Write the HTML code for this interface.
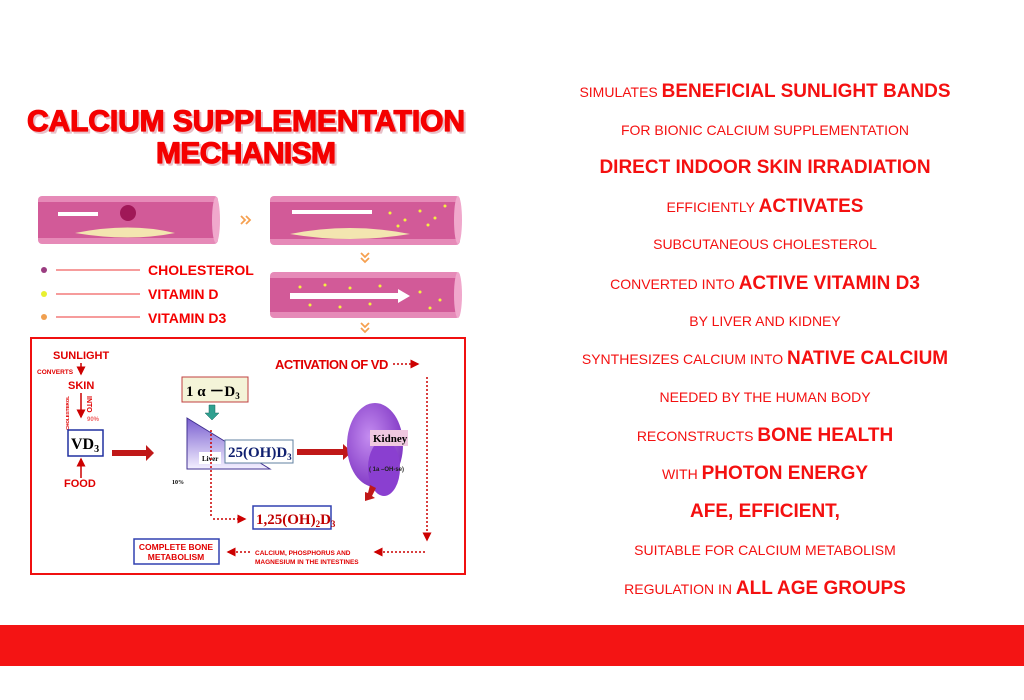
<!DOCTYPE html>
<html><head><meta charset="utf-8"><style>
html,body{margin:0;padding:0;background:#fff;width:1024px;height:700px;overflow:hidden}
svg{display:block}
</style></head><body>
<svg width="1024" height="700" viewBox="0 0 1024 700" xmlns="http://www.w3.org/2000/svg" font-family="Liberation Sans, sans-serif">
<defs>
<marker id="ah" markerWidth="6" markerHeight="6" refX="5" refY="3" orient="auto"><path d="M0,0 L6,3 L0,6 z" fill="#c00"/></marker>
<linearGradient id="liv" x1="0" y1="0" x2="0" y2="1"><stop offset="0" stop-color="#7a5fd0"/><stop offset="1" stop-color="#f4f0ff"/></linearGradient>
<radialGradient id="kid" cx="0.4" cy="0.4" r="0.7"><stop offset="0" stop-color="#c48cf0"/><stop offset="1" stop-color="#7a2fc0"/></radialGradient>
</defs>
<rect x="0" y="0" width="1024" height="700" fill="#fff"/>
<rect x="0" y="625" width="1024" height="41" fill="#f41414"/>

<!-- Title -->
<g font-weight="bold" font-size="30" text-anchor="middle" stroke-linejoin="round">
<text x="248" y="133" fill="#e8c0c8" stroke="#e8c0c8" stroke-width="1.2" textLength="438" lengthAdjust="spacing">CALCIUM SUPPLEMENTATION</text>
<text x="246" y="131" fill="#f40000" stroke="#f40000" stroke-width="1.2" textLength="438" lengthAdjust="spacing">CALCIUM SUPPLEMENTATION</text>
<text x="248" y="165" fill="#e8c0c8" stroke="#e8c0c8" stroke-width="1.2" textLength="180" lengthAdjust="spacing">MECHANISM</text>
<text x="246" y="163" fill="#f40000" stroke="#f40000" stroke-width="1.2" textLength="180" lengthAdjust="spacing">MECHANISM</text>
</g>

<!-- vessels -->
<g>
<rect x="38" y="196" width="180" height="48" rx="4" fill="#e68ab8"/>
<rect x="38" y="202" width="178" height="36" fill="#d25a98"/>
<path d="M75,233 Q130,222 175,233 Q130,242 75,233z" fill="#f3e5b0"/>
<circle cx="128" cy="213" r="8" fill="#a01858"/>
<rect x="58" y="212" width="40" height="4" fill="#fff"/>
<ellipse cx="216" cy="220" rx="4" ry="23" fill="#f0a8cc"/>

<rect x="270" y="196" width="190" height="49" rx="4" fill="#e68ab8"/>
<rect x="270" y="202" width="188" height="37" fill="#d25a98"/>
<path d="M290,234 Q350,222 410,234 Q350,244 290,234z" fill="#f3e5b0"/>
<rect x="292" y="210" width="80" height="4" fill="#fff"/>
<g fill="#f4f040"><circle cx="390" cy="213" r="1.5"/><circle cx="405" cy="220" r="1.5"/><circle cx="420" cy="211" r="1.5"/><circle cx="435" cy="218" r="1.5"/><circle cx="445" cy="206" r="1.5"/><circle cx="398" cy="226" r="1.5"/><circle cx="428" cy="225" r="1.5"/></g>
<ellipse cx="458" cy="220" rx="4" ry="24" fill="#f0a8cc"/>

<rect x="270" y="272" width="190" height="46" rx="4" fill="#e68ab8"/>
<rect x="270" y="278" width="188" height="34" fill="#d25a98"/>
<rect x="290" y="293" width="110" height="6" fill="#fff"/>
<path d="M398,289 L410,296 L398,303z" fill="#fff"/>
<g fill="#f4f040"><circle cx="300" cy="287" r="1.5"/><circle cx="325" cy="285" r="1.5"/><circle cx="350" cy="288" r="1.5"/><circle cx="380" cy="286" r="1.5"/><circle cx="310" cy="305" r="1.5"/><circle cx="340" cy="307" r="1.5"/><circle cx="370" cy="304" r="1.5"/><circle cx="420" cy="292" r="1.5"/><circle cx="440" cy="300" r="1.5"/><circle cx="430" cy="308" r="1.5"/></g>
<ellipse cx="458" cy="295" rx="4" ry="23" fill="#f0a8cc"/>
</g>
<g fill="none" stroke="#f5a050" stroke-width="1.8">
<path d="M241,216 l4,4 l-4,4 M246,216 l4,4 l-4,4"/>
<path d="M361,253 l4,4 l4,-4 M361,258 l4,4 l4,-4"/>
<path d="M361,323 l4,4 l4,-4 M361,328 l4,4 l4,-4"/>
</g>

<!-- legend -->
<circle cx="44" cy="270" r="3" fill="#9a3c80"/>
<circle cx="44" cy="294" r="3" fill="#e8f030"/>
<circle cx="44" cy="317" r="3" fill="#f0a050"/>
<g stroke="#f06060" stroke-width="1.2"><line x1="56" y1="270" x2="140" y2="270"/><line x1="56" y1="294" x2="140" y2="294"/><line x1="56" y1="317" x2="140" y2="317"/></g>
<g fill="#f40000" font-weight="bold" font-size="14">
<text x="148" y="275">CHOLESTEROL</text><text x="148" y="299">VITAMIN D</text><text x="148" y="323">VITAMIN D3</text>
</g>

<!-- mechanism box -->
<rect x="31" y="338" width="434" height="236" fill="#fff" stroke="#f01010" stroke-width="2"/>
<g fill="#e00000" font-weight="bold">
<text x="53" y="359" font-size="11">SUNLIGHT</text>
<text x="37" y="374" font-size="6.5">CONVERTS</text>
<text x="68" y="389" font-size="11">SKIN</text>
<text x="64" y="487" font-size="11">FOOD</text>
<text x="275" y="369" font-size="13" letter-spacing="-0.5">ACTIVATION OF VD</text>
</g>
<text x="87" y="421" font-size="6" fill="#f06060" font-weight="bold">90%</text>
<text x="87" y="396" font-size="7" fill="#e00000" font-weight="bold" transform="rotate(90 87 396)">INTO</text>
<text x="69" y="430" font-size="4.5" fill="#e00000" font-weight="bold" transform="rotate(-90 69 430)">CHOLESTEROL</text>
<g stroke="#c00" stroke-width="1.5"><line x1="81" y1="363" x2="81" y2="374" marker-end="url(#ah)"/><line x1="81" y1="393" x2="81" y2="417" marker-end="url(#ah)"/><line x1="81" y1="478" x2="81" y2="459" marker-end="url(#ah)"/></g>
<rect x="68" y="430" width="35" height="26" fill="#fff" stroke="#2030a0" stroke-width="1.5"/>
<text x="71" y="449" font-family="Liberation Serif, serif" font-weight="bold" font-size="16">VD<tspan font-size="10" dy="3">3</tspan></text>
<path d="M112,450 h34 v-5 l8,8 l-8,8 v-5 h-34z" fill="#c01818"/>
<text x="172" y="484" font-family="Liberation Serif, serif" font-weight="bold" font-size="6">10%</text>

<rect x="182" y="377" width="66" height="25" fill="#f4f4d8" stroke="#c04040" stroke-width="1"/>
<text x="186" y="396" font-family="Liberation Serif, serif" font-weight="bold" font-size="15">1 α －D<tspan font-size="9" dy="3">3</tspan></text>
<path d="M209,405 h6 v8 h4 l-7,7 l-7,-7 h4z" fill="#30a090" stroke="#1a6a60" stroke-width="0.5"/>
<path d="M187,418 L270,469 L187,469z" fill="url(#liv)" stroke="#403090" stroke-width="1"/>
<rect x="199" y="452" width="22" height="12" fill="#fff"/>
<text x="202" y="461" font-family="Liberation Serif, serif" font-weight="bold" font-size="7">Liver</text>
<rect x="225" y="440" width="68" height="23" fill="#fff" stroke="#6080a0" stroke-width="1"/>
<text x="228" y="457" font-family="Liberation Serif, serif" font-weight="bold" font-size="15" fill="#102070">25(OH)D<tspan font-size="9" dy="3">3</tspan></text>
<path d="M297,449 h46 v-5 l9,8 l-9,8 v-5 h-46z" fill="#c01818"/>
<ellipse cx="375" cy="445" rx="28" ry="42" fill="url(#kid)"/>
<ellipse cx="384" cy="468" rx="16" ry="28" fill="#8a3fd0"/>
<rect x="370" y="430" width="38" height="16" fill="#f0c8e0"/>
<text x="373" y="442" font-family="Liberation Serif, serif" font-weight="bold" font-size="11">Kidney</text>
<text x="369" y="471" font-size="6" font-weight="bold" fill="#202020">( 1a –OH-se)</text>
<path d="M370,485 l6,3 l-4,8 l3,2 l-10,3 l0,-9 l3,1z" fill="#c01818"/>

<g stroke="#c00" stroke-width="1.5" stroke-dasharray="2,2" fill="none">
<line x1="211" y1="430" x2="211" y2="517"/>
<line x1="213" y1="519" x2="245" y2="519" marker-end="url(#ah)"/>
<line x1="393" y1="364" x2="418" y2="364" marker-end="url(#ah)"/>
<line x1="427" y1="377" x2="427" y2="540" marker-end="url(#ah)"/>
<line x1="425" y1="552" x2="375" y2="552" marker-end="url(#ah)"/>
<line x1="250" y1="552" x2="228" y2="552" marker-end="url(#ah)"/>
</g>
<rect x="253" y="506" width="78" height="23" fill="#fff" stroke="#3040b0" stroke-width="1.5"/>
<text x="256" y="524" font-family="Liberation Serif, serif" font-weight="bold" font-size="15" fill="#c00000">1,25(OH)<tspan font-size="9" dy="3">2</tspan><tspan dy="-3">D</tspan><tspan font-size="9" dy="3">3</tspan></text>
<rect x="134" y="539" width="85" height="25" fill="#fff" stroke="#3040b0" stroke-width="1.5"/>
<g fill="#e00000" font-weight="bold" font-size="8.5" text-anchor="middle"><text x="176" y="550">COMPLETE BONE</text><text x="176" y="560">METABOLISM</text></g>
<g fill="#e00000" font-weight="bold" font-size="6.5"><text x="255" y="555">CALCIUM, PHOSPHORUS AND</text><text x="255" y="564">MAGNESIUM IN THE INTESTINES</text></g>

<!-- right text -->
<g fill="#f41010" text-anchor="middle" font-size="14">
<text x="765" y="97">SIMULATES <tspan font-weight="bold" font-size="19">BENEFICIAL SUNLIGHT BANDS</tspan></text>
<text x="765" y="135">FOR BIONIC CALCIUM SUPPLEMENTATION</text>
<text x="765" y="173" font-weight="bold" font-size="19">DIRECT INDOOR SKIN IRRADIATION</text>
<text x="765" y="212">EFFICIENTLY <tspan font-weight="bold" font-size="19">ACTIVATES</tspan></text>
<text x="765" y="249">SUBCUTANEOUS CHOLESTEROL</text>
<text x="765" y="289">CONVERTED INTO <tspan font-weight="bold" font-size="19">ACTIVE VITAMIN D3</tspan></text>
<text x="765" y="326">BY LIVER AND KIDNEY</text>
<text x="765" y="364">SYNTHESIZES CALCIUM INTO <tspan font-weight="bold" font-size="19">NATIVE CALCIUM</tspan></text>
<text x="765" y="402">NEEDED BY THE HUMAN BODY</text>
<text x="765" y="441">RECONSTRUCTS <tspan font-weight="bold" font-size="19">BONE HEALTH</tspan></text>
<text x="765" y="479">WITH <tspan font-weight="bold" font-size="19">PHOTON ENERGY</tspan></text>
<text x="765" y="517" font-weight="bold" font-size="19">AFE, EFFICIENT,</text>
<text x="765" y="555">SUITABLE FOR CALCIUM METABOLISM</text>
<text x="765" y="594">REGULATION IN <tspan font-weight="bold" font-size="19">ALL AGE GROUPS</tspan></text>
</g>
</svg>
</body></html>
